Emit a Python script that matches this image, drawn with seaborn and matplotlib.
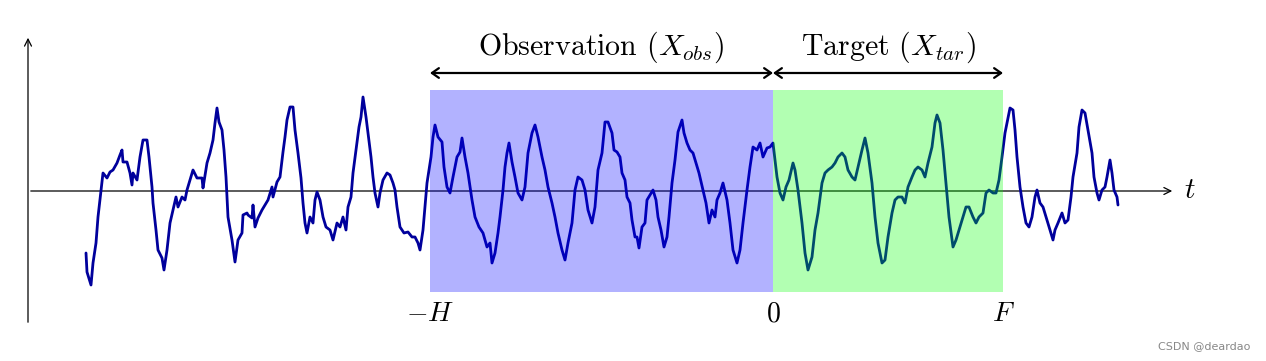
import matplotlib
matplotlib.use("Agg")
import matplotlib.pyplot as plt
import numpy as np
import pandas as pd
import seaborn as sns

# time axis: 0 = present, -H = start of observation, F = end of target
t_H = -343
t_F = 230

# signal
t = [-687, -686, -682, -680, -677, -675, -672, -670, -666, -663, -660, -656, -653, -651, -650,
     -646, -643, -641, -640, -636, -633, -630, -626, -624, -621, -620, -617, -615, -611, -609,
     -606, -603, -600, -597, -595, -591, -588, -586, -583, -580, -576, -571, -570, -566, -563,
     -560, -558, -556, -554, -551, -549, -547, -545, -541, -538, -535, -531, -530, -526, -525,
     -521, -520, -518, -515, -511, -508, -505, -501, -500, -496, -493, -490, -488, -486, -483,
     -480, -478, -475, -472, -470, -468, -466, -463, -460, -458, -456, -453, -450, -447, -443,
     -440, -436, -433, -430, -427, -425, -422, -420, -417, -414, -412, -410, -407, -405, -402,
     -400, -398, -395, -393, -390, -386, -383, -380, -378, -376, -373, -369, -365, -361, -358,
     -355, -353, -350, -348, -346, -342, -340, -338, -335, -331, -329, -326, -323, -320, -316,
     -313, -311, -308, -305, -301, -298, -294, -290, -286, -283, -281, -278, -275, -273, -270,
     -268, -266, -264, -261, -258, -255, -251, -248, -245, -241, -238, -235, -231, -228, -225,
     -221, -218, -215, -211, -208, -205, -201, -198, -195, -191, -188, -185, -181, -178, -175,
     -171, -168, -165, -161, -159, -156, -153, -151, -148, -146, -143, -141, -138, -136, -134,
     -131, -128, -126, -123, -120, -117, -115, -112, -109, -106, -104, -101, -98, -95, -91,
     -89, -86, -83, -80, -77, -74, -70, -67, -64, -61, -58, -56, -53, -50, -46,
     -43, -40, -36, -33, -30, -26, -23, -20, -16, -13, -10, -6, -3, 0, 4,
     7, 10, 13, 16, 20, 22, 25, 29, 32, 35, 39, 42, 45, 49, 52,
     55, 59, 62, 65, 69, 72, 75, 79, 82, 85, 89, 92, 95, 99, 102,
     105, 109, 112, 115, 119, 122, 125, 129, 132, 135, 139, 142, 145, 149, 152,
     155, 159, 162, 164, 167, 170, 173, 176, 180, 183, 186, 190, 193, 196, 200,
     203, 206, 210, 213, 216, 220, 223, 226, 229, 232, 234, 237, 240, 242, 244,
     247, 250, 253, 256, 259, 262, 264, 267, 270, 274, 277, 280, 282, 285, 289,
     292, 295, 298, 300, 304, 306, 309, 312, 315, 319, 321, 324, 326, 329, 332,
     334, 337, 339, 341, 344, 345]
signal = [-62, -81, -94, -72, -52, -26, 1, 18, 13, 19, 21, 28, 36, 41, 29,
          29, 18, 6, 18, 11, 34, 51, 51, 34, 4, -12, -39, -59, -67, -79,
          -59, -32, -19, -6, -16, -6, -9, 1, 11, 21, 13, 13, 3, 28, 38,
          51, 68, 83, 69, 61, 41, 14, -26, -49, -71, -49, -42, -24, -22, -24,
          -27, -14, -36, -27, -19, -14, -9, 4, -6, 9, 14, 39, 54, 71, 84,
          84, 61, 38, 13, -12, -32, -42, -26, -32, -9, -1, -9, -26, -36, -39,
          -49, -32, -36, -26, -39, -16, -6, 18, 41, 64, 74, 94, 74, 58, 34,
          14, -2, -16, -2, 11, 18, 16, 8, 1, -16, -36, -42, -41, -46, -46,
          -52, -59, -39, -16, 8, 34, 54, 66, 54, 49, 24, 4, -2, 14, 34,
          39, 53, 34, 18, -9, -26, -36, -42, -56, -52, -72, -62, -42, -26, 1,
          24, 38, 48, 29, 14, -2, -9, 4, 38, 58, 66, 54, 34, 21, 4,
          -12, -26, -42, -59, -69, -52, -32, 1, 14, 11, 1, -19, -32, -16, 21,
          38, 69, 69, 58, 41, 39, 34, 18, 11, -6, -12, -29, -46, -46, -57,
          -36, -32, -9, -4, 1, -9, -26, -39, -56, -46, -26, 8, 31, 59, 71,
          58, 48, 41, 38, 28, 18, 1, -12, -32, -19, -26, -9, -2, 8, -9,
          -32, -59, -72, -59, -32, 1, 24, 44, 41, 48, 34, 43, 44, 48, 14,
          -2, -9, 4, 11, 28, 21, 1, -32, -62, -79, -66, -39, -22, 8, 18,
          21, 24, 28, 34, 38, 34, 21, 14, 11, 24, 41, 53, 38, 8, -26,
          -52, -72, -69, -46, -22, -9, -6, -6, -12, 4, 14, 21, 24, 21, 14,
          28, 44, 68, 76, 68, 41, 8, -26, -56, -49, -39, -26, -16, -16, -26,
          -32, -26, -22, -2, 1, -2, -2, 11, 34, 58, 68, 83, 81, 61, 34,
          4, -16, -32, -36, -26, -6, 1, -12, -16, -29, -39, -49, -39, -32, -22,
          -32, -29, -6, 14, 38, 64, 81, 78, 61, 38, 14, -2, -9, 1, 4,
          14, 31, 18, 1, -6, -14]

df = pd.DataFrame({"t": t, "signal": signal})

sns.set_style("white")
plt.rcParams["font.family"] = "serif"
plt.rcParams["font.serif"] = ["cmr10"]
plt.rcParams["mathtext.fontset"] = "cm"
plt.rcParams["axes.unicode_minus"] = False
plt.rcParams["text.color"] = "black"

fig = plt.figure(figsize=(12.66, 3.61), dpi=100)
ax = fig.add_axes([0, 0, 1, 1])
ax.set_xlim(-773, 493)
ax.set_ylim(-170, 191)
ax.axis("off")

# series
sns.lineplot(data=df, x="t", y="signal", ax=ax, color="#00009C", lw=2.0, sort=False, zorder=2)

# shaded windows on top of the curve
ax.fill_between([t_H, 0], -101, 101, color="#0000FF", alpha=0.3, lw=0, zorder=3)
ax.fill_between([0, t_F], -101, 101, color="#00FF00", alpha=0.3, lw=0, zorder=3)

# axes arrows
ax.annotate("", xy=(402, 0), xytext=(-745, 0),
            arrowprops=dict(arrowstyle="->,head_length=0.5,head_width=0.25", lw=0.9, color="black"), zorder=1)
ax.annotate("", xy=(-745, 156), xytext=(-745, -134),
            arrowprops=dict(arrowstyle="->,head_length=0.5,head_width=0.25", lw=0.9, color="black"), zorder=1)
ax.text(417, 0, "$t$", fontsize=21, ha="center", va="center")

# window brackets
ax.annotate("", xy=(t_H, 118), xytext=(0, 118),
            arrowprops=dict(arrowstyle="<->,head_length=0.5,head_width=0.35", lw=1.6, color="black",
                            shrinkA=0, shrinkB=0))
ax.annotate("", xy=(0, 118), xytext=(t_F, 118),
            arrowprops=dict(arrowstyle="<->,head_length=0.5,head_width=0.35", lw=1.6, color="black",
                            shrinkA=0, shrinkB=0))
ax.text(t_H / 2, 144, "Observation ($X_{obs}$)", fontsize=21.5, ha="center", va="center")
ax.text(t_F / 2, 144, "Target ($X_{tar}$)", fontsize=21.5, ha="center", va="center")

# tick labels
ax.text(t_H, -123, "$-H$", fontsize=20, ha="center", va="center")
ax.text(0, -123, "$0$", fontsize=20, ha="center", va="center")
ax.text(t_F, -123, "$F$", fontsize=20, ha="center", va="center")

ax.text(1250, 15, "CSDN @deardao", transform=None, fontsize=8, color="#888888",
        ha="right", va="center", family="DejaVu Sans")

fig.savefig("out.png", dpi=100)
plt.close(fig)
